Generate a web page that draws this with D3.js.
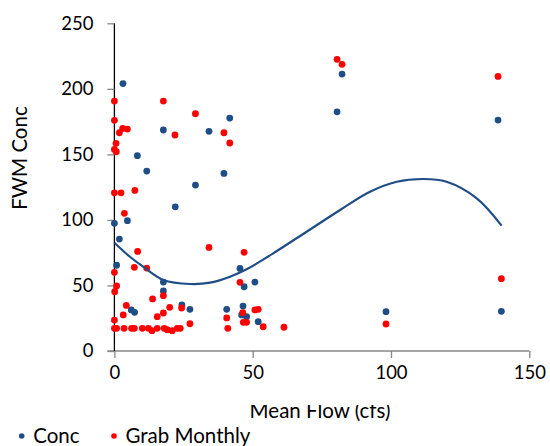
<!DOCTYPE html>
<html>
<head>
<meta charset="utf-8">
<script src="https://cdn.jsdelivr.net/npm/d3@7"></script>
<style>
  html, body { margin: 0; padding: 0; background: #fff; }
  svg { display: block; font-family: Lato, "Open Sans", sans-serif; }
</style>
</head>
<body>
<svg id="chart" width="550" height="446"></svg>
<script>
// ---- Data ----
const concFlow = [3.1, 41.7, 17.7, 34.2, 8.3, 11.7, 39.6, 29.3, 22, 0, 4.7, 1.8, 0.8, 45.4, 17.7, 46.9,
  17.7, 24.4, 27.3, 6.1, 7.3, 40.6, 46.5, 46, 47.8, 50.8, 52, 80.5, 82.3, 98.2, 138.7, 139.9];
const concValue = [204, 177.7, 168.6, 167.6, 149, 137.3, 135.5, 126.6, 110, 97.4, 99.4, 85.4, 65.4, 63, 52.6, 49,
  45.8, 35.1, 31.8, 31.3, 29.5, 31.8, 34.3, 27.5, 26.2, 52.6, 22.4, 182.5, 211.3, 30, 176.2, 30.3];

const grabFlow = [0, 17.7, 29.3, 0, 3.0, 4.7, 1.8, 21.9, 39.6, 41.7, 0.6, 0, 0.7, 7.4, 0, 2.4, 3.6, 34.2, 8.4, 46.9,
  7.2, 11.7, 0, 45.4, 0.8, 0.1, 13.8, 17.7, 4.3, 24.3, 20, 17.7, 15.5, 3.2, 40.6, 46.4, 0, 27.3, 46.6, 47.8, 41,
  0, 0.8, 3.5, 6.2, 7.2, 10.1, 12.3, 15.5, 18, 22.7, 23.8, 13.6, 19.1, 20.9,
  50.8, 52, 53.8, 61.3, 98.2, 139.9, 80.5, 82.3, 138.7];
const grabValue = [190.7, 190.7, 181, 176, 169.8, 169.3, 166.5, 164.8, 166.5, 158.7, 158.4, 153.8, 152, 122.5, 120.7, 120.7, 105, 79, 76, 75.3,
  63.8, 63.3, 60, 52.4, 49.6, 45.2, 39.7, 42.2, 34.8, 32.8, 33.3, 29, 26.2, 27.5, 25.2, 29.2, 23.6, 20.8, 21.9, 21.9, 17.3,
  17.3, 17.3, 17.3, 17.3, 17.3, 17.3, 17.3, 17.3, 17.3, 17.3, 17.3, 15.5, 16.3, 15.5,
  31.3, 31.8, 18.5, 18.1, 20.6, 55.2, 222.5, 218.7, 209.5];

// Polynomial trendline (Conc)
const trendFlow = [0, 5.6, 10.4, 17.7, 27.3, 34.6, 41.8, 47.8, 57.4, 69.5, 81.6, 92.4, 102.1, 111.7, 120.1, 131, 140];
const trendValue = [82.6, 71.9, 64.3, 54.2, 51.1, 52.1, 56.7, 62.3, 74.5, 91, 107.6, 121.5, 129.1, 131.2, 129.1, 116.5, 95.6];

const xTicks = [0, 50, 100, 150];
const yTicks = [0, 50, 100, 150, 200, 250];
const seriesNames = ["Conc", "Grab Monthly"];

// ---- Drawing ----
const blue = "#1F4E86";
const red = "#FF0000";
const svg = d3.select("#chart");

const x = d3.scaleLinear().domain([0, 150]).range([114.4, 529.3]);
const y = d3.scaleLinear().domain([0, 250]).range([351, 23.3]);

// X axis
const xAxis = svg.append("g").attr("transform", `translate(0,${y(0)})`)
  .call(d3.axisBottom(x).tickValues(xTicks).tickSize(7).tickPadding(8).tickFormat(d3.format("d")));
xAxis.select(".domain").attr("stroke", "#868686").attr("stroke-width", 1.3)
  .attr("d", `M${x(0) - 7},0H${x(150)}`);
xAxis.selectAll(".tick line").attr("stroke", "#868686").attr("stroke-width", 1.3);
xAxis.selectAll(".tick text").attr("font-size", 18.5).attr("fill", "#000")
  .attr("font-family", "Lato, 'Open Sans', sans-serif");

// Y axis
const yAxis = svg.append("g").attr("transform", `translate(${x(0)},0)`)
  .call(d3.axisLeft(y).tickValues(yTicks).tickSize(7).tickPadding(14).tickFormat(d3.format("d")));
yAxis.select(".domain").attr("stroke", "#000").attr("stroke-width", 1.3)
  .attr("d", `M0,${y(250)}V${y(0)}`);
yAxis.selectAll(".tick line").attr("stroke", "#868686").attr("stroke-width", 1.3);
yAxis.selectAll(".tick text").attr("font-size", 18.5).attr("fill", "#000")
  .attr("font-family", "Lato, 'Open Sans', sans-serif");

// Axis titles
svg.append("text")
  .attr("transform", `translate(27,158) rotate(-90)`)
  .attr("text-anchor", "middle")
  .attr("font-size", 20.5).attr("fill", "#000")
  .text("FWM Conc");

svg.append("clipPath").attr("id", "xtClip")
  .append("rect").attr("x", 0).attr("y", 405).attr("width", 550).attr("height", 41);
svg.append("text")
  .attr("clip-path", "url(#xtClip)")
  .attr("x", 320).attr("y", 418)
  .attr("text-anchor", "middle")
  .attr("font-size", 20.5).attr("fill", "#000")
  .text("Mean Flow (cfs)");

// Points
const concData = concFlow.map((f, i) => ({ f, v: concValue[i] }));
const grabData = grabFlow.map((f, i) => ({ f, v: grabValue[i] }));

svg.append("g").selectAll("circle").data(concData).join("circle")
  .attr("cx", d => x(d.f)).attr("cy", d => y(d.v)).attr("r", 3.4).attr("fill", blue);
svg.append("g").selectAll("circle").data(grabData).join("circle")
  .attr("cx", d => x(d.f)).attr("cy", d => y(d.v)).attr("r", 3.4).attr("fill", red);

// Trendline
const trendData = trendFlow.map((f, i) => ({ f, v: trendValue[i] }));
svg.append("path").datum(trendData)
  .attr("fill", "none").attr("stroke", blue).attr("stroke-width", 2.2)
  .attr("d", d3.line().x(d => x(d.f)).y(d => y(d.v)).curve(d3.curveCatmullRom.alpha(0.5)));

// Legend
const legendX = [21.7, 114];
const legendColors = [blue, red];
const lg = svg.append("g");
seriesNames.forEach((name, i) => {
  lg.append("circle").attr("cx", legendX[i]).attr("cy", 436).attr("r", 2.8).attr("fill", legendColors[i]);
  lg.append("text").attr("x", legendX[i] + 11.5).attr("y", 442.5)
    .attr("font-size", 20.5).attr("fill", "#000").text(name);
});
</script>
</body>
</html>
